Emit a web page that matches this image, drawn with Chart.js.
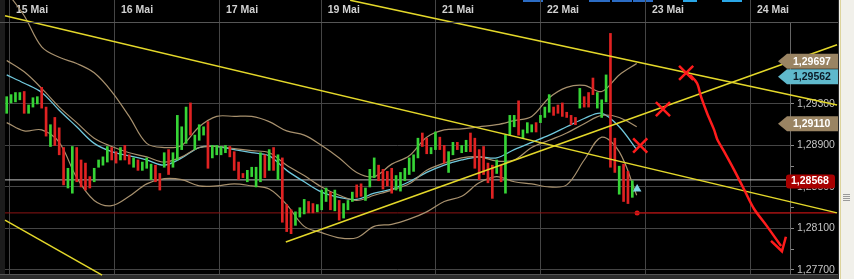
<!DOCTYPE html>
<html>
<head>
<meta charset="utf-8">
<script src="https://cdn.jsdelivr.net/npm/chart.js@4.4.0/dist/chart.umd.min.js"></script>
<style>
  html, body { margin: 0; padding: 0; background: #000; overflow: hidden; }
  canvas { display: block; }
</style>
</head>
<body>
<canvas id="eurChart" width="854" height="279"></canvas>
<script>
// hourly bars, index 0 = first bar of 15 Mai
const barHigh = [
  1.2937,1.2939,1.2941,1.2941,1.2942,1.2929,1.2936,1.2937,1.2946,1.2927,
  1.2910,1.2917,1.2907,1.2888,1.2868,1.2889,1.2888,1.2876,1.2873,1.2860,
  1.2868,1.2876,1.2879,1.2889,1.2888,1.2884,1.2888,1.2890,1.2881,1.2878,
  1.2876,1.2874,1.2878,1.2872,1.2871,1.2863,1.2883,1.2886,1.2883,1.2919,
  1.2908,1.2927,1.2931,1.2900,1.2910,1.2908,1.2913,1.2890,1.2890,1.2889,
  1.2890,1.2889,1.2884,1.2874,1.2863,1.2866,1.2869,1.2869,1.2883,1.2881,
  1.2886,1.2888,1.2881,1.2878,1.2833,1.2828,1.2826,1.2830,1.2838,1.2836,
  1.2834,1.2833,1.2847,1.2849,1.2845,1.2847,1.2837,1.2834,1.2837,1.2845,
  1.2852,1.2853,1.2849,1.2867,1.2878,1.2871,1.2867,1.2865,1.2868,1.2861,
  1.2864,1.2868,1.2878,1.2881,1.2897,1.2902,1.2897,1.2888,1.2903,1.2898,
  1.2890,1.2884,1.2893,1.2893,1.2890,1.2895,1.2902,1.2897,1.2886,1.2889,
  1.2873,1.2871,1.2876,1.2871,1.2900,1.2919,1.2919,1.2933,1.2905,1.2912,
  1.2910,1.2912,1.2919,1.2927,1.2939,1.2927,1.2929,1.2931,1.2922,1.2919,
  1.2917,1.2945,1.2937,1.2941,1.2955,1.2941,1.2934,1.2958,1.2998,1.2897,
  1.2870,1.2872,1.2865,1.2856
];
const barLow = [
  1.2921,1.2931,1.2932,1.2934,1.2921,1.2921,1.2927,1.2930,1.2926,1.2899,
  1.2889,1.2890,1.2881,1.2852,1.2849,1.2844,1.2855,1.2850,1.2847,1.2849,
  1.2855,1.2869,1.2871,1.2874,1.2876,1.2873,1.2876,1.2876,1.2872,1.2869,
  1.2866,1.2866,1.2868,1.2857,1.2855,1.2847,1.2869,1.2862,1.2869,1.2876,
  1.2886,1.2892,1.2900,1.2886,1.2895,1.2900,1.2868,1.2878,1.2881,1.2881,
  1.2883,1.2879,1.2866,1.2857,1.2859,1.2855,1.2860,1.2850,1.2855,1.2859,
  1.2866,1.2866,1.2857,1.2816,1.2807,1.2805,1.2813,1.2821,1.2824,1.2825,
  1.2825,1.2826,1.2828,1.2836,1.2828,1.2827,1.2818,1.2820,1.2828,1.2836,
  1.2840,1.2841,1.2837,1.2850,1.2859,1.2856,1.2848,1.2851,1.2844,1.2847,
  1.2846,1.2856,1.2862,1.2865,1.2878,1.2889,1.2882,1.2882,1.2886,1.2886,
  1.2873,1.2864,1.2881,1.2886,1.2883,1.2884,1.2884,1.2868,1.2857,1.2862,
  1.2854,1.2839,1.2863,1.2855,1.2844,1.2900,1.2908,1.2900,1.2897,1.2902,
  1.2903,1.2903,1.2912,1.2917,1.2922,1.2919,1.2921,1.2918,1.2917,1.2910,
  1.2910,1.2926,1.2927,1.2927,1.2939,1.2926,1.2917,1.2932,1.2869,1.2864,
  1.2843,1.2836,1.2834,1.2840
];
// 1 = up bar (green), 0 = down bar (red)
const barUp = [
  1,1,1,1,0,1,1,1,0,0,
  1,0,0,0,1,1,0,0,0,0,
  1,1,1,1,0,0,1,0,0,1,
  0,1,1,1,0,0,1,0,1,1,
  1,1,0,1,1,1,0,1,1,1,
  1,0,0,0,0,1,1,1,1,0,
  1,0,1,0,0,0,1,1,1,0,
  0,1,1,1,0,1,0,1,1,1,
  0,0,1,1,1,0,0,0,0,1,
  1,1,1,1,1,0,0,1,1,0,
  0,1,1,0,1,1,0,0,0,0,
  0,0,1,0,1,1,1,0,1,1,
  1,0,1,1,1,0,0,0,0,0,
  0,1,0,0,0,1,1,1,0,0,
  1,0,0,1
];

// day separators (in bar units) and their labels
const dayPos = [0.75, 24.75, 48.75, 72.0, 98.1, 122.1, 146.1, 170.1];
const dayLabels = ['15 Mai', '16 Mai', '17 Mai', '19 Mai', '21 Mai', '22 Mai', '23 Mai', '24 Mai'];

// price axis ticks (labelled every 0.004)
const priceTicks = [1.277, 1.279, 1.281, 1.283, 1.285, 1.287, 1.289, 1.291, 1.293, 1.295];
const labelledTicks = [1.277, 1.281, 1.285, 1.289, 1.293];

// indicators, read every 4 bars
const bandStep = 4;
const bbUpper = [1.3038,1.3015,1.2985,1.2975,1.2969,1.2960,1.2942,1.2918,1.2892,1.2888,
  1.2890,1.2908,1.2918,1.2918,1.2918,1.2913,1.2904,1.2900,1.2890,1.2878,
  1.2864,1.2860,1.2872,1.2880,1.2898,1.2905,1.2906,1.2908,1.2910,1.2914,
  1.2918,1.2936,1.2946,1.2948,1.2942,1.2958,1.2969];
const bbMiddle = [1.2972,1.2961,1.2945,1.2927,1.2912,1.2897,1.2889,1.2883,1.2879,1.2874,
  1.2879,1.2888,1.2889,1.2887,1.2885,1.2883,1.2871,1.2861,1.2850,1.2842,
  1.2837,1.2842,1.2847,1.2853,1.2866,1.2873,1.2878,1.2879,1.2875,1.2876,
  1.2888,1.2895,1.2902,1.2911,1.2919,1.2917,1.2908];
const emaLine = [1.2958,1.2950,1.2941,1.2924,1.2908,1.2892,1.2884,1.2880,1.2876,1.2871,
  1.2878,1.2888,1.2889,1.2886,1.2883,1.2880,1.2866,1.2855,1.2845,1.2840,
  1.2838,1.2844,1.2848,1.2855,1.2864,1.2871,1.2876,1.2879,1.2878,1.2886,
  1.2893,1.2900,1.2908,1.2916,1.2921,1.2908,1.2886];
const bbLower = [1.2912,1.2904,1.2905,1.2893,1.2859,1.2837,1.2832,1.2841,1.2853,1.2858,
  1.2857,1.2851,1.2851,1.2853,1.2851,1.2848,1.2833,1.2812,1.2806,1.2801,
  1.2801,1.2812,1.2814,1.2819,1.2826,1.2836,1.2841,1.2854,1.2860,1.2855,
  1.2853,1.2850,1.2852,1.2876,1.2898,1.2884,1.2842];

// hand drawn trend lines: [x0, price0, x1, price1]
const trendLines = [
  [-0.39, 1.3015, 189.8, 1.2825],
  [78.5, 1.3030, 189.8, 1.2929],
  [63.8, 1.2797, 189.8, 1.2987],
  [-0.39, 1.2818, 21.8, 1.2765]
];

// red crosses and the red arrow
const crossX = [155.3, 150.0, 144.8];
const crossY = [1.2960, 1.2925, 1.2890];
const arrowX = [156.2, 157.8, 158.7, 160.1, 161.7, 162.4, 164.0, 166.2, 168.5, 170.8, 173.8, 177.0];
const arrowY = [1.2958, 1.2950, 1.2937, 1.2921, 1.2905, 1.2896, 1.2884, 1.2867, 1.2848, 1.2829, 1.2812, 1.2793];
const headX = [174.7, 177.2, 178.1];
const headY = [1.2798, 1.2788, 1.2802];

// price levels
const lastPrice = 1.28568;
const alertPrice = 1.2825;
const alertStart = 144.1;
const markerPrice = 1.2848;
const tagPrices = [1.29697, 1.29562, 1.29110, 1.28568];
const tagKinds = ['tan', 'cyan', 'tan', 'red'];

const xMin = -0.39, xMax = 179.04;
const yMin = 1.27661, yMax = 1.30090;

const priceFmt = v => v.toFixed(5).replace('.', ',');
const isLabelled = v => labelledTicks.some(t => Math.abs(t - v) < 1e-6);
const pts = (xs, ys) => xs.map((x, i) => ({ x: x, y: ys[i] }));
const band = arr => arr.map((v, i) => ({ x: i * bandStep, y: v }));

Chart.defaults.font.family = '"Liberation Sans", Arial, sans-serif';

function lineSet(data, color, width, order, extra) {
  return Object.assign({
    type: 'line', data: data, borderColor: color, borderWidth: width,
    pointRadius: 0, fill: false, tension: 0, clip: false, order: order
  }, extra || {});
}

// backgrounds, frame pieces and price tags
const framePlugin = {
  id: 'frame',
  beforeDraw(chart) {
    const c = chart.ctx;
    c.save();
    c.fillStyle = '#000';
    c.fillRect(0, 0, 854, 279);
    c.fillStyle = '#1c1c1c';
    c.fillRect(0, 0, 5, 279);
    c.fillStyle = '#2c2c2c';
    c.fillRect(0, 275, 854, 4);
    c.fillStyle = '#555';
    c.fillRect(0, 274, 839, 1);
    // top toolbar remains
    c.fillStyle = '#2b6cc4';
    [[523, 20], [589, 21], [612, 20], [633, 20]].forEach(b => c.fillRect(b[0], 0, b[1], 2));
    c.fillStyle = '#2aa6e6';
    [[683, 14], [722, 20]].forEach(b => c.fillRect(b[0], 0, b[1], 2));
    c.restore();
  },
  afterDraw(chart) {
    const c = chart.ctx;
    const ys = chart.scales.y;
    c.save();
    c.fillStyle = '#555';
    c.fillRect(0, 22, 839, 1);

    // price tags on the right
    const h = 15;
    const pos = tagPrices.map(v => ys.getPixelForValue(v));
    for (let i = 0; i < pos.length - 1; i++) {
      if (pos[i + 1] - pos[i] < h) pos[i] = pos[i + 1] - h - 0.5;
    }
    c.font = 'bold 10.5px "Liberation Sans", Arial, sans-serif';
    c.textBaseline = 'middle';
    tagPrices.forEach((v, i) => {
      const y = pos[i];
      const kind = tagKinds[i];
      c.beginPath();
      if (kind === 'red') {
        c.fillStyle = '#a80000';
        c.roundRect(786, y - 5.5, 49, 14, 3);
        c.fill();
        c.fillStyle = '#fff';
        c.fillText(priceFmt(v), 791, y + 1.5);
        return;
      }
      c.fillStyle = kind === 'cyan' ? '#5fb9cc' : '#9a8463';
      c.moveTo(778, y);
      c.lineTo(787, y - h / 2);
      c.lineTo(838, y - h / 2);
      c.lineTo(838, y + h / 2);
      c.lineTo(787, y + h / 2);
      c.closePath();
      c.fill();
      c.fillStyle = kind === 'cyan' ? '#0c1a26' : '#fff';
      c.fillText(priceFmt(v), 793, y + 0.5);
    });

    // right side panel
    c.fillStyle = '#2a2a2a';
    c.fillRect(838, 0, 1, 279);
    c.fillStyle = '#f1f0ea';
    c.fillRect(839, 0, 15, 279);
    c.fillStyle = '#ddd49c';
    c.fillRect(840, 0, 1, 279);
    c.fillStyle = '#9a9a9a';
    [194, 196, 198, 200].forEach(y => c.fillRect(843, y, 7, 1));
    c.restore();
  }
};

const datasets = [
  lineSet(pts(crossX, crossY), '#ff1c1c', 0, 0, {
    showLine: false, pointStyle: 'crossRot', pointRadius: 10,
    pointBorderColor: '#ff1c1c', pointBorderWidth: 2.5
  }),
  lineSet(pts(arrowX, arrowY), '#ff1c1c', 2.5, 0, { tension: 0.3 }),
  lineSet(pts(headX, headY), '#ff1c1c', 2.5, 0),
  lineSet([{ x: alertStart, y: markerPrice }], '#80d4e6', 0, 0, {
    showLine: false, pointStyle: 'triangle', pointRadius: 5,
    pointBackgroundColor: '#80d4e6', pointBorderColor: '#80d4e6'
  })
];

trendLines.forEach(t => {
  datasets.push(lineSet([{ x: t[0], y: t[1] }, { x: t[2], y: t[3] }], '#e4d82a', 1.5, 1));
});

datasets.push({
  type: 'bar',
  data: barHigh.map((hi, i) => ({ x: i, y: [barLow[i], hi] })),
  backgroundColor: barUp.map(u => u ? '#36d436' : '#e02222'),
  barThickness: 2,
  order: 2
});

const bandColor = '#a8916e';
datasets.push(lineSet(band(bbUpper), bandColor, 1.2, 3, { tension: 0.35 }));
datasets.push(lineSet(band(bbMiddle), bandColor, 1.2, 3, { tension: 0.35 }));
datasets.push(lineSet(band(bbLower), bandColor, 1.2, 3, { tension: 0.35 }));
datasets.push(lineSet(band(emaLine), '#70c8dc', 1.3, 3, { tension: 0.35 }));

datasets.push(lineSet([{ x: xMin, y: lastPrice }, { x: xMax, y: lastPrice }], '#c4c4c4', 1, 4, { clip: 0 }));
datasets.push(lineSet([{ x: xMin, y: alertPrice }, { x: xMax, y: alertPrice }], '#8c1414', 1, 4, { clip: 0 }));
datasets.push(lineSet([{ x: alertStart, y: alertPrice }, { x: 189.6, y: alertPrice }], '#e81616', 1, 4, {
  pointRadius: [2.5, 0], pointBackgroundColor: '#e81616', pointBorderWidth: 0
}));

new Chart(document.getElementById('eurChart'), {
  type: 'bar',
  data: { datasets: datasets },
  plugins: [framePlugin],
  options: {
    responsive: false,
    animation: false,
    events: [],
    layout: { autoPadding: false, padding: { left: 5, right: 0, top: 0, bottom: 5 } },
    plugins: { legend: { display: false }, tooltip: { enabled: false } },
    scales: {
      x: {
        type: 'linear',
        position: 'top',
        min: xMin,
        max: xMax,
        offset: false,
        afterBuildTicks: s => { s.ticks = dayPos.map(v => ({ value: v })); },
        afterFit: s => { s.height = 22; s.paddingLeft = 0; s.paddingRight = 0; },
        grid: { color: '#454545', tickColor: '#454545', tickLength: 22, offset: false },
        border: { display: true, color: '#555' },
        ticks: {
          autoSkip: false, maxRotation: 0, align: 'start', labelOffset: 6,
          padding: -16.6, color: '#d2d2d2',
          font: { size: 10.5, weight: 'bold' },
          callback: (v, i) => dayLabels[i]
        }
      },
      y: {
        position: 'right',
        min: yMin,
        max: yMax,
        afterBuildTicks: s => { s.ticks = priceTicks.map(v => ({ value: v })); },
        afterFit: s => { s.width = 64; s.paddingTop = 0; s.paddingBottom = 0; },
        grid: {
          color: c => (c.tick && isLabelled(c.tick.value)) ? '#454545' : 'rgba(0,0,0,0)',
          tickColor: '#8a8a8a',
          tickLength: 4
        },
        border: { display: true, color: '#666' },
        ticks: {
          padding: 3, color: '#c4c4c4',
          font: { size: 10.5 },
          callback: v => isLabelled(v) ? priceFmt(v) : ''
        }
      }
    }
  }
});
</script>
</body>
</html>
